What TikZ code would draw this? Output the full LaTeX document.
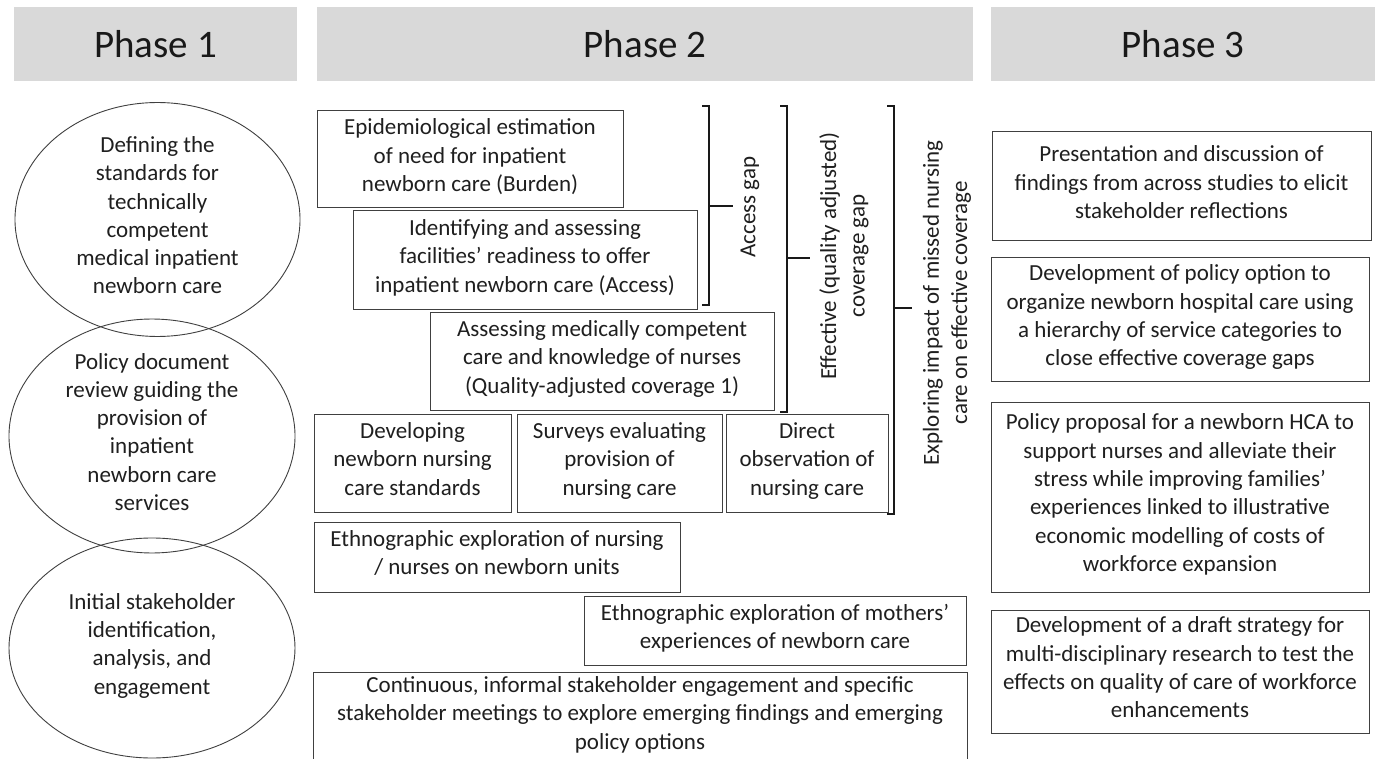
\documentclass[tikz,border=0pt]{standalone}
\usepackage{fontspec}
\setmainfont{Carlito}
\usetikzlibrary{shapes.geometric}
\begin{document}
\begin{tikzpicture}[x=1pt,y=-1pt,
  txt/.style={font=\fontsize{23}{28.4}\selectfont, text=black!88, align=center},
  box/.style={txt, draw=black!75, line width=1pt, inner sep=0pt, rectangle,
    execute at begin node=\strut, execute at end node=\strut},
  hdr/.style={fill=black!15, inner sep=0pt, font=\fontsize{39}{47}\selectfont, text=black!90, minimum height=74pt},
  oval/.style={ellipse, draw=black!75, line width=0.9pt, inner sep=0pt, align=center, text=black!88, font=\fontsize{23}{28.2}\selectfont,
    execute at begin node=\strut, execute at end node=\strut},
  brk/.style={line width=2.4pt, black!90},
  gaplbl/.style={txt, rotate=90}
]
\useasboundingbox (0,0) rectangle (1381,759);
\fill[white] (0,0) rectangle (1381,759);
\clip (0,0) rectangle (1381,759);

% headers
\node[hdr, minimum width=283pt] (h1) at (155.5,44) {Phase 1};
\node[hdr, minimum width=656pt] (h2) at (645,44) {Phase 2};
\node[hdr, minimum width=384pt] (h3) at (1183,44) {Phase 3};

% phase 1 ellipses
\node[oval, minimum width=285pt, minimum height=221pt] (e1) at (157.5,219.5)
  {Defining the\\standards for\\technically\\competent\\medical inpatient\\newborn care};
\node[oval, minimum width=286pt, minimum height=226pt] (e2) at (152,436)
  {Policy document\\review guiding the\\provision of\\inpatient\\newborn care\\services};
\node[oval, minimum width=286pt, minimum height=220pt] (e3) at (152,648)
  {Initial stakeholder\\identification,\\analysis, and\\engagement};

% phase 2 boxes
\node[box, minimum width=306pt, minimum height=97pt] (epi) at (470,159.5)
  {Epidemiological estimation\\of need for inpatient\\newborn care (Burden)};
\node[box, minimum width=344pt, minimum height=98pt] (ident) at (525,260)
  {Identifying and assessing\\facilities’ readiness to offer\\inpatient newborn care (Access)};
\node[box, minimum width=344pt, minimum height=98pt] (assess) at (602,361)
  {Assessing medically competent\\care and knowledge of nurses\\(Quality-adjusted coverage 1)};
\node[box, minimum width=197pt, minimum height=98pt] (dev) at (412.5,463)
  {Developing\\newborn nursing\\care standards};
\node[box, minimum width=205pt, minimum height=98pt] (surv) at (619.5,463)
  {Surveys evaluating\\provision of\\nursing care};
\node[box, minimum width=162pt, minimum height=98pt] (direct) at (807,463)
  {Direct\\observation of\\nursing care};
\node[box, minimum width=366pt, minimum height=70pt] (ethn) at (497,557)
  {Ethnographic exploration of nursing\\/ nurses on newborn units};
\node[box, minimum width=382pt, minimum height=69pt] (moth) at (775,630.5)
  {Ethnographic exploration of mothers’\\experiences of newborn care};
\node[box, minimum width=654pt, minimum height=90pt] (cont) at (640,717)
  {Continuous, informal stakeholder engagement and specific\\stakeholder meetings to explore emerging findings and emerging\\policy options};

% brackets
\coordinate (accT) at (709,106);
\coordinate (accB) at (709,305);
\coordinate (accM) at (709,206);
\coordinate (accE) at (733,206);
\draw[brk] ([xshift=-7pt]accT) -- (accT) -- (accB) -- ([xshift=-7pt]accB);
\draw[brk] (accM) -- (accE);
\node[gaplbl] (acclbl) at (750,207) {Access gap};

\coordinate (effT) at (787,106);
\coordinate (effB) at (787,412);
\coordinate (effM) at (787,258);
\coordinate (effE) at (810,258);
\draw[brk] ([xshift=-7pt]effT) -- (effT) -- (effB) -- ([xshift=-7pt]effB);
\draw[brk] (effM) -- (effE);
\node[gaplbl] (efflbl) at (844,256) {Effective (quality adjusted)\\coverage gap};

\coordinate (expT) at (894,106);
\coordinate (expB) at (894,514);
\coordinate (expM) at (894,308);
\coordinate (expE) at (912,308);
\draw[brk] ([xshift=-7pt]expT) -- (expT) -- (expB) -- ([xshift=-7pt]expB);
\draw[brk] (expM) -- (expE);
\node[gaplbl] (explbl) at (947,303) {Exploring impact of missed nursing\\care on effective coverage};

% phase 3 boxes
\node[box, minimum width=379pt, minimum height=109pt] (p1) at (1181.5,186.5)
  {Presentation and discussion of\\findings from across studies to elicit\\stakeholder reflections};
\node[box, minimum width=378pt, minimum height=123pt] (p2) at (1180,319.5)
  {Development of policy option to\\organize newborn hospital care using\\a hierarchy of service categories to\\close effective coverage gaps};
\node[box, minimum width=378pt, minimum height=190pt] (p3) at (1180,497)
  {Policy proposal for a newborn HCA to\\support nurses and alleviate their\\stress while improving families’\\experiences linked to illustrative\\economic modelling of costs of\\workforce expansion};
\node[box, minimum width=378pt, minimum height=123pt] (p4) at (1180,671.5)
  {Development of a draft strategy for\\multi-disciplinary research to test the\\effects on quality of care of workforce\\enhancements};
\end{tikzpicture}
\end{document}
